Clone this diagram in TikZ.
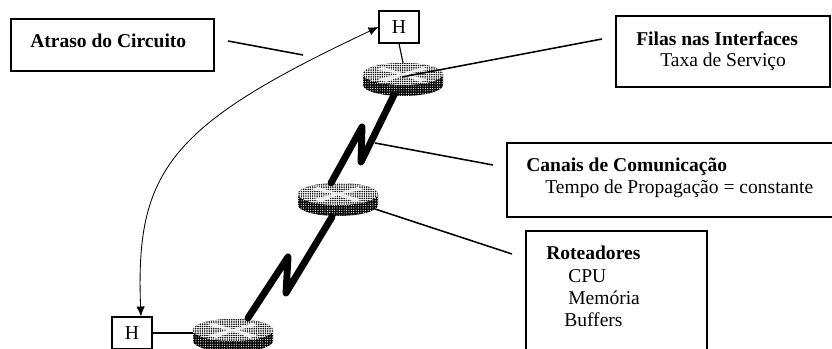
\documentclass[tikz,border=0pt]{standalone}
\usepackage{fontspec}
\setmainfont{Liberation Serif}
\usetikzlibrary{arrows.meta,patterns.meta}
\usetikzlibrary{shapes.geometric}

\tikzset{
  box/.style={draw,line width=1.2pt,inner sep=0pt},
  hostbox/.style={box,line width=.8pt,minimum width=1cm,font=\fontsize{14}{16}\selectfont},
  txt/.style={anchor=base west,inner sep=0pt,font=\fontsize{13.9}{16}\selectfont},
  txtb/.style={txt,font=\fontsize{13.9}{16}\selectfont\bfseries},
  callout/.style={line width=1.1pt},
  wan/.style={line width=4.9pt,line join=round,line cap=round},
  routertop/.style={ellipse,minimum width=2cm,minimum height=.55cm,inner sep=0pt,
    pattern={Dots[distance=1.6pt,radius=.62pt]},pattern color=black},
  routerside/.style={preaction={fill=black},
    pattern={Dots[distance=1.7pt,radius=.42pt]},pattern color=white},
}

% router: top face is a node, so links can end on it
\newcommand{\router}[3]{
  \fill[routerside]
    (#2-1,#3) -- (#2-1,#3-.275) arc [x radius=1, y radius=.275, start angle=180, end angle=360]
    -- (#2+1,#3) arc [x radius=1, y radius=.275, start angle=0, end angle=180];
  \fill[white] (#2,#3) ellipse [x radius=1, y radius=.275];
  \node[routertop] (#1) at (#2,#3) {};
  \fill[white,opacity=.85] (#2-.5,#3+.18) -- (#2,#3+.02) -- (#2+.5,#3+.18) -- (#2+.62,#3+.11) -- (#2+.12,#3)
    -- (#2+.6,#3-.14) -- (#2+.42,#3-.2) -- (#2,#3-.03) -- (#2-.42,#3-.2) -- (#2-.62,#3-.13)
    -- (#2-.12,#3) -- (#2-.65,#3+.11) -- cycle;
}

\begin{document}
\begin{tikzpicture}
        \clip (0,0) rectangle (20.8,8.725);
        \useasboundingbox (0,0) rectangle (20.8,8.725);
        \fill[white] (0,0) rectangle (20.8,8.725);

        % routers
        \router{rtop}{10.075}{6.875}
        \router{rmid}{8.45}{3.875}
        \router{rbot}{5.825}{.475}

        % hosts
        \node[hostbox,minimum height=.8cm] (htop) at (9.975,8.05) {H};
        \node[hostbox,minimum height=.8cm] (hbot) at (3.3,.4) {H};
        \draw[line width=.8pt] (htop.south) -- (rtop.north);
        \draw[line width=.8pt] (hbot.east) -- (hbot.east -| rbot.west);

        % links
        \coordinate (ltopa) at (9.85,6.35);
        \coordinate (ltopb) at (9.025,4.675);
        \coordinate (ltopc) at (9.05,5.55);
        \coordinate (ltopd) at (8.275,4.15);
        \draw[wan] (ltopa) -- (ltopb) -- (ltopc) -- (ltopd);
        \coordinate (lbota) at (8.3,3.3);
        \coordinate (lbotb) at (7.15,1.4);
        \coordinate (lbotc) at (7.2,2.3);
        \coordinate (lbotd) at (6.2,.775);
        \draw[wan] (lbota) -- (lbotb) -- (lbotc) -- (lbotd);

        % delay path
        \draw[{Latex[length=7pt,width=6pt]}-{Latex[length=7pt,width=6pt]},line width=.6pt]
          ([xshift=.225cm]hbot.north) .. controls (3.375,4.475) and (4.25,5.6) .. (htop.west);

        % Atraso
        \node[box,minimum width=5.075cm,minimum height=1.3cm] (atraso) at (2.8125,7.6) {};
        \node[txtb] (atrasot) at (.75,7.525) {Atraso do Circuito};
        \coordinate (atrasoa) at (5.7,7.7);
        \coordinate (atrasob) at (7.575,7.35);
        \draw[callout] (atrasoa) -- (atrasob);

        % Filas
        \node[box,minimum width=5.35cm,minimum height=1.775cm] (filas) at (18.075,7.4375) {};
        \node[txtb] (filast) at (15.9,7.575) {Filas nas Interfaces};
        \node[txt] (filasa) at (16.5,7.05) {Taxa de Serviço};
        \coordinate (filase) at (15.05,7.75);
        \coordinate (filasr) at (10.05,6.8);
        \draw[callout] (filase) -- (filasr);

        % Canais
        \node[box,minimum width=8.2cm,minimum height=1.85cm] (canais) at (16.775,4.225) {};
        \node[txtb] (canaist) at (13.15,4.425) {Canais de Comunicação};
        \node[txt] (canaisa) at (13.625,3.875) {Tempo de Propagação = constante};
        \coordinate (canaise) at (12.325,4.6);
        \coordinate (canaisl) at (9.375,5.15);
        \draw[callout] (canaise) -- (canaisl);

        % Roteadores
        \node[box,minimum width=4.525cm,minimum height=3.475cm] (rot) at (15.41,1.2125) {};
        \node[txtb] (rott) at (13.65,2.225) {Roteadores};
        \node[txt] (rota) at (14.2,1.65) {CPU};
        \node[txt] (rotb) at (14.2,1.1) {Memória};
        \node[txt] (rotc) at (14.1,.55) {Buffers};
        \coordinate (rote) at (12.8,2.375);
        \coordinate (rotr) at (9.375,3.5);
        \draw[callout] (rote) -- (rotr);
      \end{tikzpicture}
\end{document}
